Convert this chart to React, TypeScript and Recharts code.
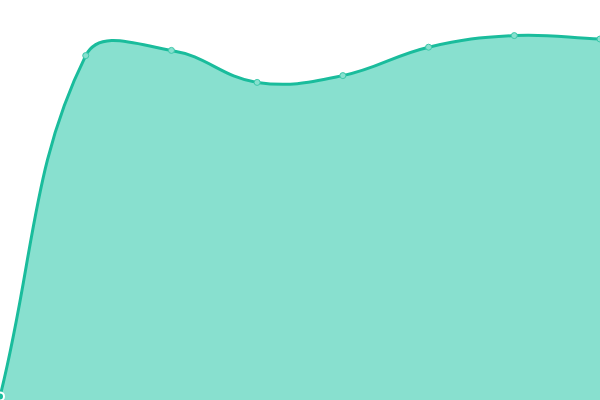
import React from "react";
import { AreaChart, Area, XAxis, YAxis } from "recharts";

const categories = ["A", "B", "C", "D", "E", "F", "G", "H"];
const values = [0.9, 86.1, 87.4, 79.4, 81.1, 88.2, 91.1, 90.25];

const data = categories.map((c, i) => ({ name: c, value: values[i] }));

const W = 600;
const H = 400;
const TENSION = 0.4;

// Tension-based spline curve (control points from neighbours), capped to the plot area.
function splineCurve(context: any) {
  let pts: [number, number][] = [];
  let line: number = NaN;
  const clampX = (v: number) => Math.max(0, Math.min(W, v));
  const clampY = (v: number) => Math.max(0, Math.min(H, v));
  return {
    areaStart() {
      line = 0;
    },
    areaEnd() {
      line = NaN;
    },
    lineStart() {
      pts = [];
    },
    point(x: number, y: number) {
      pts.push([+x, +y]);
    },
    lineEnd() {
      const n = pts.length;
      if (n > 0) {
        if (line) context.lineTo(pts[0][0], pts[0][1]);
        else context.moveTo(pts[0][0], pts[0][1]);
        const cps: { px: number; py: number; nx: number; ny: number }[] = [];
        for (let i = 0; i < n; i++) {
          const prev = pts[i - 1] || pts[i];
          const cur = pts[i];
          const next = pts[i + 1] || pts[i];
          const d01 = Math.hypot(cur[0] - prev[0], cur[1] - prev[1]);
          const d12 = Math.hypot(next[0] - cur[0], next[1] - cur[1]);
          let s01 = d01 / (d01 + d12);
          let s12 = d12 / (d01 + d12);
          if (!isFinite(s01)) s01 = 0;
          if (!isFinite(s12)) s12 = 0;
          const fa = TENSION * s01;
          const fb = TENSION * s12;
          cps.push({
            px: clampX(cur[0] - fa * (next[0] - prev[0])),
            py: clampY(cur[1] - fa * (next[1] - prev[1])),
            nx: clampX(cur[0] + fb * (next[0] - prev[0])),
            ny: clampY(cur[1] + fb * (next[1] - prev[1])),
          });
        }
        for (let i = 1; i < n; i++) {
          context.bezierCurveTo(cps[i - 1].nx, cps[i - 1].ny, cps[i].px, cps[i].py, pts[i][0], pts[i][1]);
        }
      }
      if (line || (line !== 0 && n === 1)) context.closePath();
      line = 1 - line;
    },
  };
}

export default function App() {
  return (
    <div style={{ position: "absolute", top: 0, left: 0, width: W, height: H }}>
      <AreaChart width={W} height={H} data={data} margin={{ top: 0, right: 0, bottom: 0, left: 0 }}>
        <XAxis dataKey="name" hide padding={{ left: 0, right: 0 }} />
        <YAxis hide domain={[0, 100]} />
        <Area
          type={splineCurve as any}
          dataKey="value"
          stroke="#1abc9c"
          strokeWidth={3}
          fill="#88e0cf"
          fillOpacity={1}
          dot={{ r: 3, fill: "#88e0cf", stroke: "#3cc8aa", strokeWidth: 1, fillOpacity: 1 }}
          isAnimationActive={false}
        />
      </AreaChart>
    </div>
  );
}
